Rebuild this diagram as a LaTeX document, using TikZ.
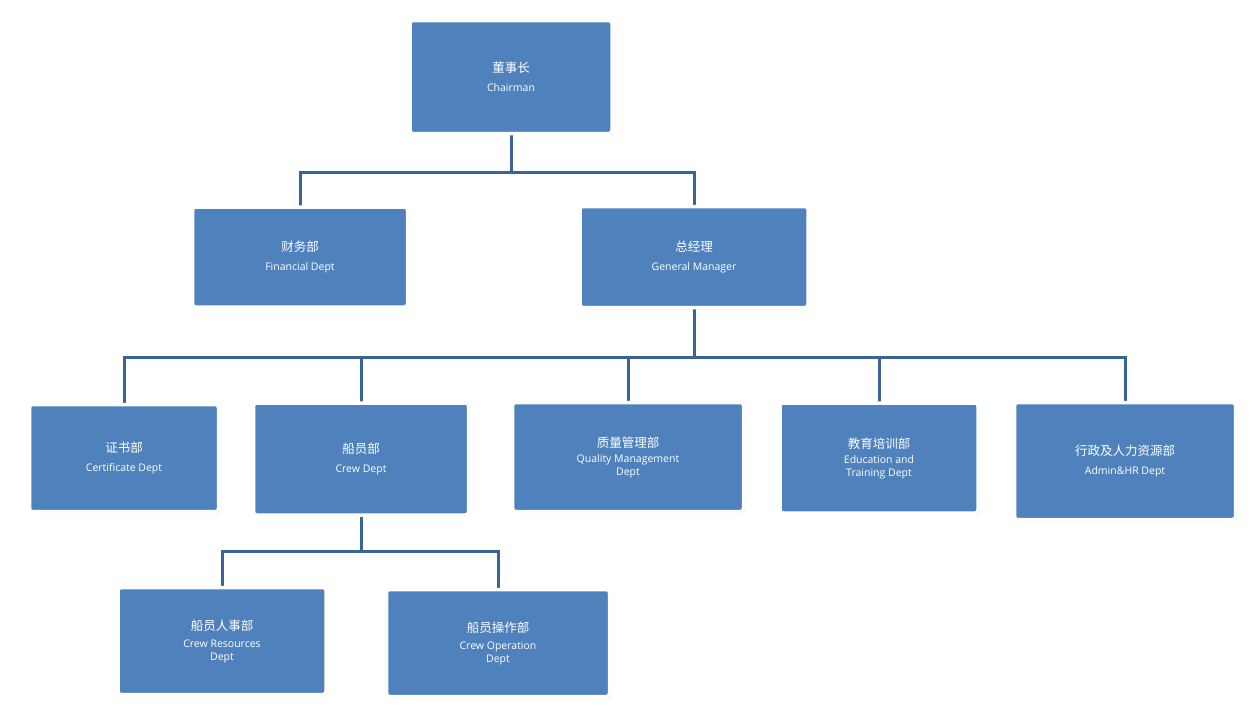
\documentclass[tikz,border=0pt]{standalone}
\usepackage{fontspec}
\setmainfont{Open Sans}
\newfontfamily\cjk{Noto Sans CJK SC}
\usetikzlibrary{shadows}
\definecolor{boxblue}{HTML}{4F81BD}
\definecolor{linkblue}{HTML}{3A6496}
\tikzset{
  org/.style={draw=white, line width=3.5pt, fill=boxblue, rounded corners=3pt,
    drop shadow={shadow xshift=1.5pt, shadow yshift=-1.5pt, fill=black!35},
    text=white, align=center, inner sep=0pt, font=\fontsize{10.5}{13}\selectfont},
  link/.style={draw=linkblue, line width=3pt}
}
\newcommand{\zh}[1]{{\cjk\fontsize{12.5}{15}\selectfont #1}}
\begin{document}
\begin{tikzpicture}[x=1pt,y=-1pt]
\useasboundingbox (0,0) rectangle (1257,721);
\coordinate (h1) at (511,172);
\coordinate (h2) at (694,357);
\coordinate (h3) at (361,551);
\draw[link] (511,77) -- (h1);
\draw[link] (300,257) |- (h1) -| (694,257);
\draw[link] (694,257) -- (h2);
\draw[link] (124,458) |- (h2) -| (1125,461);
\draw[link] (361,459) -- (361,357);
\draw[link] (628,457) -- (628,357);
\draw[link] (879,458) -- (879,357);
\draw[link] (361,459) -- (h3);
\draw[link] (222,641) |- (h3) -| (498,643);
\node[org, minimum width=202, minimum height=113] (ch) at (511,77) {\zh{董事长}\\[6pt]Chairman};
\node[org, minimum width=215, minimum height=100] (fin) at (300,257) {\zh{财务部}\\[6pt]Financial Dept};
\node[org, minimum width=228, minimum height=101] (gm) at (694,257) {\zh{总经理}\\[6pt]General Manager};
\node[org, minimum width=189, minimum height=107] (cert) at (124,458) {\zh{证书部}\\[6pt]Certificate Dept};
\node[org, minimum width=215, minimum height=112] (crew) at (361,459) {\zh{船员部}\\[6pt]Crew Dept};
\node[org, minimum width=231, minimum height=109] (qm) at (628,457) {\zh{质量管理部}\\[2pt]Quality Management\\Dept};
\node[org, minimum width=198, minimum height=110] (edu) at (879,458) {\zh{教育培训部}\\[2pt]Education and\\Training Dept};
\node[org, minimum width=221, minimum height=117] (adm) at (1125,461) {\zh{行政及人力资源部}\\[6pt]Admin\&HR Dept};
\node[org, minimum width=208, minimum height=107] (cr) at (222,641) {\zh{船员人事部}\\[4pt]Crew Resources\\Dept};
\node[org, minimum width=223, minimum height=107] (co) at (498,643) {\zh{船员操作部}\\[4pt]Crew Operation\\Dept};
\end{tikzpicture}
\end{document}
